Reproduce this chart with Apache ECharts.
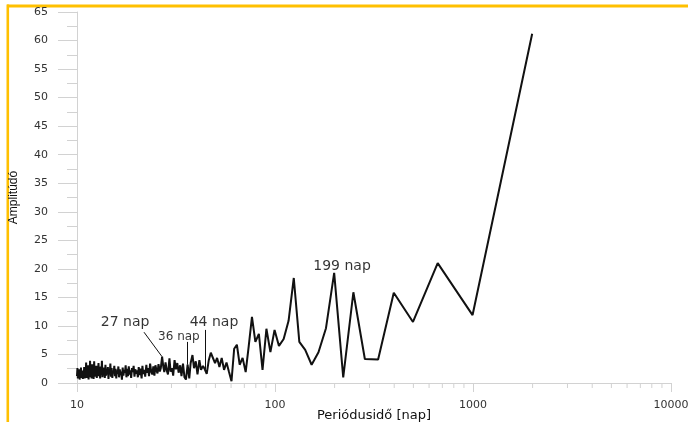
<!DOCTYPE html>
<html>
<head>
<meta charset="utf-8">
<script src="https://cdn.jsdelivr.net/npm/echarts@6/dist/echarts.min.js"></script>
<style>
  html, body { margin: 0; padding: 0; background: #ffffff; }
  #chart { width: 688px; height: 422px; }
</style>
</head>
<body>
<div id="chart"></div>
<script>
// Period (days) of each spectral component, ascending
const periods = [
  10.00, 10.05, 10.10, 10.15, 10.21, 10.26, 10.31, 10.36, 10.42, 10.47,
  10.53, 10.59, 10.64, 10.70, 10.76, 10.82, 10.87, 10.93, 10.99, 11.06,
  11.12, 11.18, 11.24, 11.31, 11.37, 11.44, 11.50, 11.57, 11.64, 11.71,
  11.78, 11.85, 11.92, 11.99, 12.06, 12.13, 12.21, 12.28, 12.36, 12.44,
  12.52, 12.59, 12.68, 12.76, 12.84, 12.92, 13.01, 13.09, 13.18, 13.27,
  13.36, 13.45, 13.54, 13.63, 13.72, 13.82, 13.92, 14.01, 14.11, 14.21,
  14.32, 14.42, 14.53, 14.63, 14.74, 14.85, 14.96, 15.08, 15.19, 15.31,
  15.43, 15.55, 15.67, 15.79, 15.92, 16.05, 16.18, 16.31, 16.45, 16.58,
  16.72, 16.86, 17.01, 17.16, 17.30, 17.46, 17.61, 17.77, 17.93, 18.09,
  18.26, 18.43, 18.60, 18.77, 18.95, 19.13, 19.32, 19.51, 19.70, 19.90,
  20.1, 20.3, 20.5, 20.7, 20.9, 21.2, 21.4, 21.6, 21.9, 22.1,
  22.4, 22.6, 22.9, 23.1, 23.4, 23.7, 24.0, 24.3, 24.6, 24.9,
  25.2, 25.5, 25.8, 26.2, 26.5,
  26.9,
  27.3, 27.6, 28.0, 28.4, 28.8, 29.3, 29.7, 30.2, 30.6, 31.1,
  31.6, 32.1, 32.6, 33.2, 33.7, 34.3, 34.9, 35.5,
  36.2, 36.9, 37.5, 38.3, 39.0, 39.8, 40.6, 41.5, 42.3, 43.3,
  44.2, 45.2, 46.3, 47.4, 48.5, 49.8, 51.0, 52.4, 53.8, 55.3,
  56.9, 58.5, 60.3, 62.2, 64.2, 66.3, 68.6, 71.1, 73.7, 76.5,
  79.6, 82.9, 86.5, 90.5, 94.8, 99.5, 104.7, 110.6, 117.1, 124.4,
  132.7, 142.1, 153.1, 165.8, 180.9, 199, 221.1, 248.8, 284.3, 331.7,
  398, 497.5, 663.3, 995, 1990
];

// Amplitude of each component, same order as periods
const amplitudes = [
  1.2, 2.6, 0.8, 2.1, 1.0, 2.4, 0.6, 1.8, 1.1, 2.7,
  0.9, 1.5, 2.2, 0.7, 1.9, 1.3, 2.8, 0.8, 2.0, 1.2,
  3.6, 0.9, 2.4, 1.4, 3.1, 0.6, 2.2, 1.0, 3.9, 1.3,
  2.5, 0.8, 3.3, 1.6, 2.0, 0.7, 3.8, 1.1, 2.6, 1.5,
  3.0, 0.9, 2.3, 1.7, 3.5, 1.2, 2.1, 0.8, 2.9, 1.4,
  3.9, 1.0, 2.4, 1.8, 2.7, 0.9, 3.2, 1.3, 2.0, 1.6,
  2.8, 0.7, 2.3, 1.5, 3.4, 1.1, 2.6, 0.9, 2.1, 1.7,
  3.0, 1.2, 2.5, 0.8, 2.2, 1.6, 2.9, 1.0, 2.4, 1.4,
  2.0, 0.6, 2.7, 1.3, 2.3, 1.8, 3.1, 1.0, 2.5, 1.2,
  2.9, 1.5, 2.2, 0.9, 2.6, 1.9, 3.0, 1.1, 2.4, 1.6,
  2.2, 1.0, 2.8, 1.4, 2.5, 0.8, 3.0, 1.6, 2.3, 1.1,
  3.2, 1.8, 2.6, 1.2, 3.4, 2.0, 1.5, 2.9, 1.3, 3.1,
  2.2, 1.7, 3.3, 2.0, 2.6,
  4.6,
  2.8, 1.9, 3.6, 2.2, 1.5, 4.3, 2.0, 2.6, 1.3, 4.0,
  2.4, 3.5, 1.8, 3.1, 1.2, 3.4, 1.0, 0.6,
  3.2, 0.8, 3.5, 4.9, 2.6, 3.8, 1.5, 4.0, 2.3, 3.0,
  2.4, 1.6, 4.0, 5.3, 5.6, 3.5, 4.4, 2.8, 4.4, 2.3,
  3.6, 2.0, 0.3, 6.0, 6.7, 3.2, 4.4, 1.9, 6.5, 11.6,
  7.2, 8.6, 2.3, 9.5, 5.4, 9.3, 6.5, 7.7, 10.9, 18.4,
  7.2, 5.8, 3.2, 5.4, 9.6, 19.3, 1.0, 15.9, 4.2, 4.1,
  15.8, 10.7, 21.0, 11.9, 61.2
];

// Log-axis minor tick values (2..9 within each decade)
const minorTickValues = [
  20, 30, 40, 50, 60, 70, 80, 90,
  200, 300, 400, 500, 600, 700, 800, 900,
  2000, 3000, 4000, 5000, 6000, 7000, 8000, 9000
];

// Peak annotations: text, period of the marked peak, its amplitude
const peakTexts = ['27 nap', '36 nap', '44 nap', '199 nap'];
const peakPeriods = [26.9, 36.2, 44.2, 199];
const peakAmps = [4.6, 3.2, 2.4, 19.3];

// Where each annotation text sits and where its leader line starts (data space)
const peakLayout = [
  { text: [17.5, 10.6], leader: [21.8, 8.9], size: 14 },
  { text: [32.7, 8.1], leader: [36.2, 7.2], size: 12 },
  { text: [49.2, 10.6], leader: [44.2, 9.3], size: 14 },
  { text: [218, 20.4], leader: null, size: 14 }
];

const seriesData = periods.map((p, i) => [p, amplitudes[i]]);

const leaderLines = [];
const labelPoints = [];
peakTexts.forEach((t, i) => {
  const lay = peakLayout[i];
  if (lay.leader) {
    leaderLines.push([
      { coord: lay.leader },
      { coord: [peakPeriods[i], peakAmps[i]] }
    ]);
  }
  labelPoints.push({
    value: [lay.text[0], lay.text[1], t],
    label: { fontSize: lay.size }
  });
});

const axisGray = '#d2d2d2';
const textFont = 'DejaVu Sans';

const chart = echarts.init(document.getElementById('chart'), null, { renderer: 'canvas' });

chart.setOption({
  animation: false,
  backgroundColor: '#ffffff',
  grid: {
    left: 77, right: 17, top: 12, bottom: 39,
    containLabel: false,
    outerBoundsMode: 'none'
  },
  xAxis: {
    type: 'log',
    logBase: 10,
    min: 10,
    max: 10000,
    name: 'Periódusidő [nap]',
    nameLocation: 'middle',
    nameGap: 26,
    nameMoveOverlap: false,
    nameTextStyle: { fontFamily: textFont, fontSize: 13, color: '#111' },
    axisLine: { show: true, lineStyle: { color: axisGray, width: 1 } },
    axisTick: { show: true, length: 9, lineStyle: { color: axisGray } },
    minorTick: { show: false },
    splitLine: { show: false },
    axisLabel: {
      margin: 17,
      fontFamily: textFont,
      fontSize: 11,
      color: '#333',
      formatter: v => String(Math.round(v))
    }
  },
  yAxis: {
    type: 'value',
    min: 0,
    max: 65,
    interval: 5,
    name: 'Amplitúdó',
    nameLocation: 'middle',
    nameGap: 57,
    nameRotate: 90,
    nameMoveOverlap: false,
    nameTextStyle: { fontFamily: 'Liberation Sans', fontSize: 12, color: '#111' },
    axisLine: { show: true, lineStyle: { color: axisGray, width: 1 } },
    axisTick: { show: true, inside: false, length: 19, lineStyle: { color: axisGray } },
    minorTick: { show: true, splitNumber: 2, length: 10, lineStyle: { color: axisGray } },
    splitLine: { show: false },
    minorSplitLine: { show: false },
    axisLabel: {
      margin: 29,
      fontFamily: textFont,
      fontSize: 11,
      color: '#333'
    }
  },
  graphic: [
    // gold frame along the top and left edges
    { type: 'rect', shape: { x: 7, y: 4.5, width: 681, height: 3 }, style: { fill: '#FFC000' }, silent: true },
    { type: 'rect', shape: { x: 6.5, y: 4.5, width: 2.6, height: 418 }, style: { fill: '#FFC000' }, silent: true }
  ],
  series: [
    {
      type: 'line',
      data: seriesData,
      showSymbol: false,
      symbol: 'none',
      lineStyle: { color: '#111', width: 2 },
      z: 3,
      markLine: {
        silent: true,
        symbol: ['none', 'none'],
        label: { show: false },
        lineStyle: { color: '#111', width: 1, type: 'solid' },
        data: leaderLines
      }
    },
    {
      type: 'scatter',
      data: labelPoints,
      symbol: 'circle',
      symbolSize: 1,
      itemStyle: { color: 'rgba(0,0,0,0)' },
      silent: true,
      z: 4,
      label: {
        show: true,
        position: 'inside',
        fontFamily: textFont,
        color: '#000',
        formatter: p => p.value[2]
      }
    },
    {
      // minor ticks of the logarithmic period axis
      type: 'custom',
      data: minorTickValues.map(v => [v, 0]),
      clip: false,
      silent: true,
      renderItem: function (params, api) {
        const p = api.coord([api.value(0), 0]);
        return {
          type: 'line',
          shape: { x1: p[0], y1: p[1], x2: p[0], y2: p[1] + 5 },
          style: { stroke: axisGray, lineWidth: 1 }
        };
      }
    }
  ]
});
</script>
</body>
</html>
